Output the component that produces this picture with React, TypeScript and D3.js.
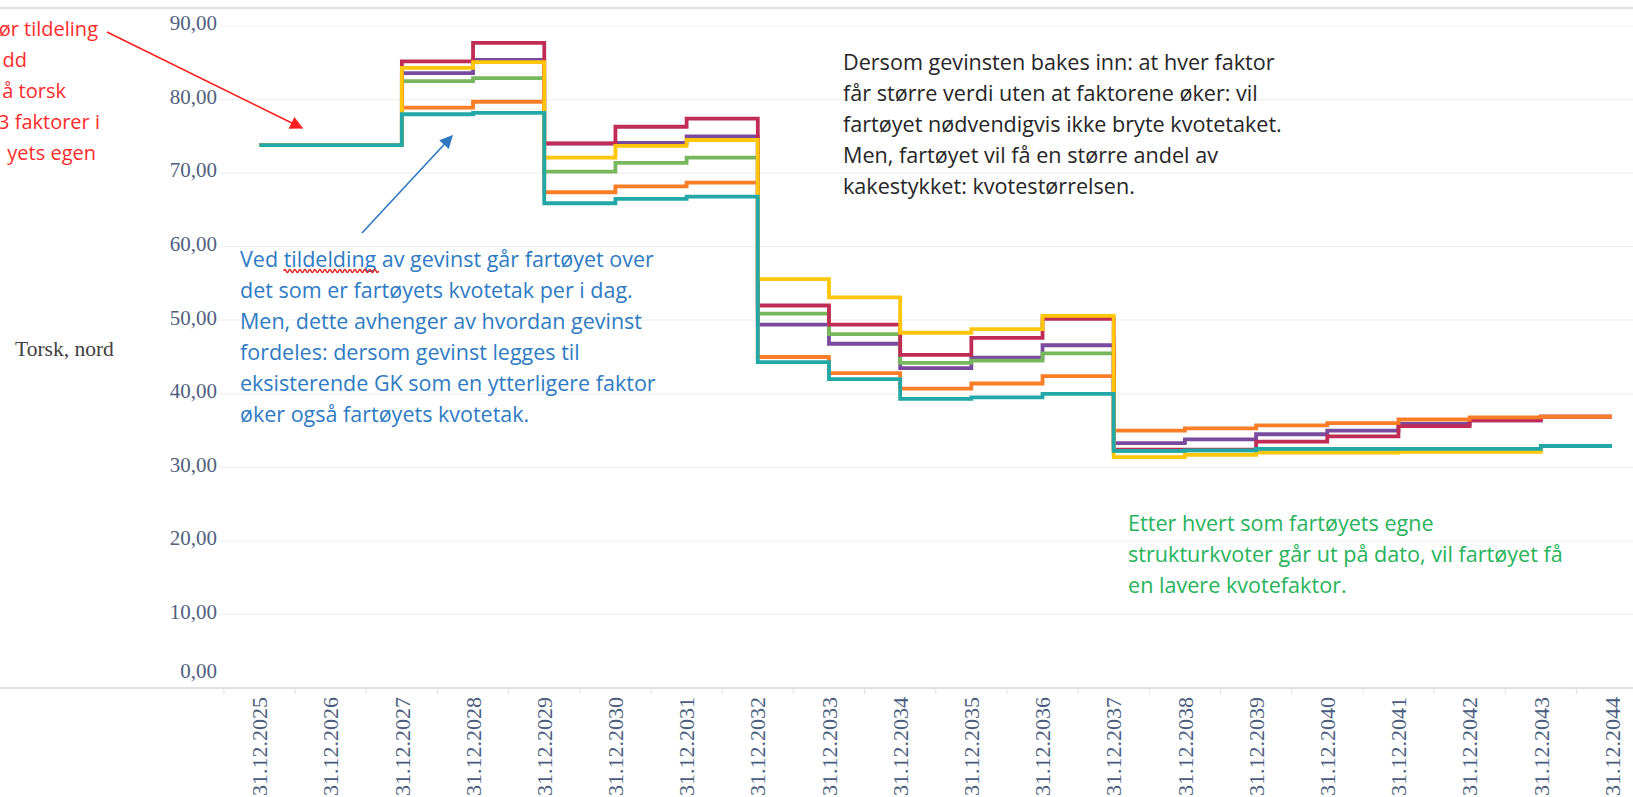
import { useRef, useEffect } from 'react';
import * as d3 from 'd3';

// x categories (year-end dates)
const categories = [
  '31.12.2025', '31.12.2026', '31.12.2027', '31.12.2028', '31.12.2029',
  '31.12.2030', '31.12.2031', '31.12.2032', '31.12.2033', '31.12.2034',
  '31.12.2035', '31.12.2036', '31.12.2037', '31.12.2038', '31.12.2039',
  '31.12.2040', '31.12.2041', '31.12.2042', '31.12.2043', '31.12.2044',
];

const yTicks = [0, 10, 20, 30, 40, 50, 60, 70, 80, 90];

// kvotefaktor per scenario
const purpleValues = [73.8, 73.8, 83.6, 85.4, 74.0, 74.1, 75.0, 49.4, 46.8, 43.5, 44.9, 46.6, 33.3, 33.8, 34.5, 35.0, 35.9, 36.4, 36.9, 36.9];
const greenValues = [73.8, 73.8, 82.5, 82.9, 70.2, 71.4, 72.1, 50.9, 48.1, 44.2, 44.5, 45.5, 32.25, 32.3, 32.5, 32.5, 32.5, 32.5, 32.9, 32.9];
const redValues = [73.8, 73.8, 85.2, 87.7, 74.05, 76.3, 77.4, 52.0, 49.4, 45.3, 47.6, 50.2, 32.4, 32.4, 33.5, 34.2, 35.6, 36.4, 36.9, 36.9];
const orangeValues = [73.8, 73.8, 78.9, 79.7, 67.4, 68.2, 68.7, 45.0, 42.8, 40.7, 41.4, 42.4, 35.0, 35.3, 35.7, 36.0, 36.5, 36.8, 36.9, 36.9];
const yellowValues = [73.8, 73.8, 84.3, 85.1, 72.1, 73.7, 74.5, 55.6, 53.1, 48.3, 48.8, 50.6, 31.4, 31.7, 32.0, 32.0, 32.1, 32.1, 32.9, 32.9];
const tealValues = [73.8, 73.8, 78.0, 78.2, 65.9, 66.5, 66.8, 44.3, 42.0, 39.3, 39.5, 40.0, 32.25, 32.3, 32.5, 32.5, 32.5, 32.5, 32.9, 32.9];

const redNote = ['ør tildeling', 'dd', 'å torsk', '3 faktorer i', 'yets egen'];
const blueNote = [
  'Ved tildelding av gevinst går fartøyet over',
  'det som er fartøyets kvotetak per i dag.',
  'Men, dette avhenger av hvordan gevinst',
  'fordeles: dersom gevinst legges til',
  'eksisterende GK som en ytterligere faktor',
  'øker også fartøyets kvotetak.',
];
const blackNote = [
  'Dersom gevinsten bakes inn: at hver faktor',
  'får større verdi uten at faktorene øker: vil',
  'fartøyet nødvendigvis ikke bryte kvotetaket.',
  'Men, fartøyet vil få en større andel av',
  'kakestykket: kvotestørrelsen.',
];
const greenNote = [
  'Etter hvert som fartøyets egne',
  'strukturkvoter går ut på dato, vil fartøyet få',
  'en lavere kvotefaktor.',
];

const width = 1633;
const height = 797;

export default function App() {
  const svgRef = useRef<SVGSVGElement | null>(null);

  useEffect(() => {
    if (!svgRef.current) return;
    document.body.style.margin = '0';
    const svg = d3.select(svgRef.current);
    svg.selectAll('*').remove();

    const x = d3.scalePoint<string>().domain(categories).range([259.5, 1612]);
    const step = x.step();
    const y = d3.scaleLinear().domain([0, 90]).range([688, 26]);
    const fmt = d3.formatLocale({ decimal: ',', thousands: ' ', grouping: [3], currency: ['', ''] }).format('.2f');

    const serif = '"Liberation Serif", "Times New Roman", serif';
    const sans = '"Open Sans", Roboto, sans-serif';

    svg.append('rect').attr('width', width).attr('height', height).attr('fill', '#fff');

    // top border
    svg.append('line')
      .attr('x1', 0).attr('x2', width).attr('y1', 8).attr('y2', 8)
      .attr('stroke', '#e2e2e2').attr('stroke-width', 2.5);

    // gridlines
    svg.append('g')
      .selectAll('line')
      .data(yTicks.filter(d => d > 0))
      .enter().append('line')
      .attr('x1', 218).attr('x2', width)
      .attr('y1', d => y(d)).attr('y2', d => y(d))
      .attr('stroke', '#f0f0f0').attr('stroke-width', 1.2);

    // y labels
    svg.append('g')
      .selectAll('text')
      .data(yTicks)
      .enter().append('text')
      .attr('x', 217)
      .attr('y', d => (d === 0 ? y(d) - 17 : y(d) - 3))
      .attr('dy', '0.35em')
      .attr('text-anchor', 'end')
      .attr('font-family', serif)
      .attr('font-size', 21)
      .attr('fill', '#4f6080')
      .text(d => fmt(d));

    // x axis line + ticks
    svg.append('line')
      .attr('x1', 0).attr('x2', width).attr('y1', y(0)).attr('y2', y(0))
      .attr('stroke', '#d4d4d4').attr('stroke-width', 1.5);
    svg.append('g')
      .selectAll('line')
      .data(categories)
      .enter().append('line')
      .attr('x1', d => (x(d) as number) - step / 2)
      .attr('x2', d => (x(d) as number) - step / 2)
      .attr('y1', y(0)).attr('y2', y(0) + 6)
      .attr('stroke', '#e0e0e0').attr('stroke-width', 1);

    // x labels (rotated)
    svg.append('g')
      .selectAll('text')
      .data(categories)
      .enter().append('text')
      .attr('transform', d => `translate(${x(d)},${y(0) + 9}) rotate(-90)`)
      .attr('dy', '0.35em')
      .attr('text-anchor', 'end')
      .attr('font-family', serif)
      .attr('font-size', 22)
      .attr('fill', '#4a5d7e')
      .text(d => d);

    svg.append('text')
      .attr('x', 15).attr('y', 348).attr('dy', '0.35em')
      .attr('font-family', serif).attr('font-size', 21.5)
      .attr('fill', '#404040')
      .text('Torsk, nord');

    // step lines
    const series = [
      { color: '#7a4a9e', values: purpleValues },
      { color: '#77b85e', values: greenValues },
      { color: '#c02c55', values: redValues },
      { color: '#fb7d25', values: orangeValues },
      { color: '#ffc60a', values: yellowValues },
      { color: '#22a8a6', values: tealValues },
    ];
    const line = d3.line<number>()
      .x((_, i) => x(categories[i]) as number)
      .y(d => y(d))
      .curve(d3.curveStepAfter);

    svg.append('g')
      .selectAll('path')
      .data(series)
      .enter().append('path')
      .attr('d', d => line(d.values))
      .attr('fill', 'none')
      .attr('stroke', d => d.color)
      .attr('stroke-width', 3.8)
      .attr('stroke-linejoin', 'miter');

    // arrow markers
    const defs = svg.append('defs');
    [['arrRed', '#ff1f1f'], ['arrBlue', '#2e78c2']].forEach(([id, c]) => {
      defs.append('marker')
        .attr('id', id)
        .attr('viewBox', '0 0 10 10')
        .attr('refX', 9).attr('refY', 5)
        .attr('markerUnits', 'userSpaceOnUse')
        .attr('markerWidth', 15).attr('markerHeight', 13)
        .attr('orient', 'auto')
        .append('path')
        .attr('d', 'M0,0 L10,5 L0,10 Z')
        .attr('fill', c);
    });

    svg.append('line')
      .attr('x1', 107).attr('y1', 32).attr('x2', 302).attr('y2', 128)
      .attr('stroke', '#ff1f1f').attr('stroke-width', 1.6)
      .attr('marker-end', 'url(#arrRed)');
    svg.append('line')
      .attr('x1', 362).attr('y1', 233).attr('x2', 452).attr('y2', 136)
      .attr('stroke', '#2e78c2').attr('stroke-width', 1.6)
      .attr('marker-end', 'url(#arrBlue)');

    // notes
    const note = (lines: string[], x0: number, y0: number, color: string, anchor: string, size: number, ends?: number[]) => {
      const g = svg.append('g');
      lines.forEach((t, i) => {
        g.append('text')
          .attr('x', ends ? ends[i] : x0)
          .attr('y', y0 + i * 31.1)
          .attr('dy', '0.35em')
          .attr('text-anchor', anchor)
          .attr('font-family', sans)
          .attr('font-size', size)
          .attr('fill', color)
          .text(t);
      });
      return g;
    };

    note(redNote, 0, 29, '#ff2b2b', 'end', 20, [98, 27, 66, 100, 96]);
    const blue = note(blueNote, 240, 259, '#2e7bc4', 'start', 21.5);
    note(blackNote, 843, 62, '#262626', 'start', 21.6);
    note(greenNote, 1128, 523, '#27b35a', 'start', 21.6);

    // red wavy spell-check underline under "tildelding"
    const firstBlue = blue.select('text').node() as SVGTextElement;
    const startX = firstBlue.getStartPositionOfChar(4).x;
    const endX = firstBlue.getEndPositionOfChar(13).x;
    const wy = 259 + 12;
    let p = `M${startX},${wy}`;
    for (let wx = startX; wx < endX; wx += 5) {
      p += ` q1.25,-3 2.5,0 q1.25,3 2.5,0`;
    }
    svg.append('path')
      .attr('d', p)
      .attr('fill', 'none')
      .attr('stroke', '#e52222')
      .attr('stroke-width', 1.5);
  }, []);

  return (
    <svg
      ref={svgRef}
      width={width}
      height={height}
      style={{ display: 'block', position: 'absolute', left: 0, top: 0 }}
    />
  );
}
